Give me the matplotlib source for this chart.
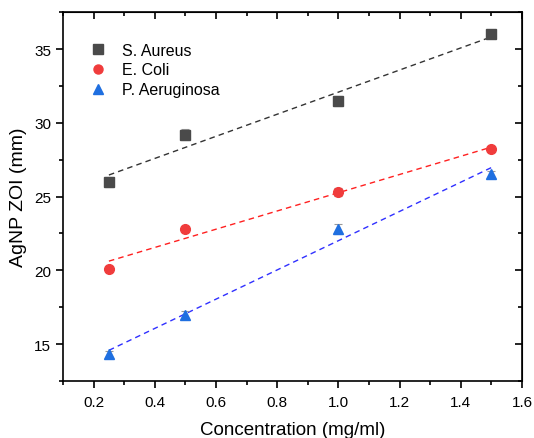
import matplotlib.pyplot as plt
import numpy as np
from matplotlib.lines import Line2D
from matplotlib.ticker import MultipleLocator

plt.rcParams['font.family'] = ['Liberation Sans', 'DejaVu Sans']

# Konzentrationen und Hemmhofdurchmesser
konz = np.array([0.25, 0.5, 1.0, 1.5])
s_aureus = np.array([26.0, 29.2, 31.5, 36.0])
e_coli = np.array([20.1, 22.8, 25.3, 28.2])
p_aeruginosa = np.array([14.3, 17.0, 22.8, 26.5])
fehler_sa = np.array([0.35, 0.4, 0.35, 0.15])
fehler_ec = np.array([0.2, 0.2, 0.25, 0.15])
fehler_pa = np.array([0.2, 0.25, 0.35, 0.25])

reihen = [
    ('S. Aureus', s_aureus, fehler_sa, 's', '#4a4a4a', '#333333'),
    ('E. Coli', e_coli, fehler_ec, 'o', '#f03c3c', '#ff2020'),
    ('P. Aeruginosa', p_aeruginosa, fehler_pa, '^', '#1f6fe0', '#3030ff'),
]

fig = plt.figure(figsize=(5.34, 4.39), dpi=100)
ax = fig.add_axes([0.118, 0.13, 0.8595, 0.84])

griffe = []
for name, werte, fehler, marker, farbe, linienfarbe in reihen:
    ax.errorbar(konz, werte, yerr=fehler, fmt=marker, color=farbe, ms=7,
                ecolor='#999999', elinewidth=0.8, capsize=3, capthick=0.8,
                zorder=3)
    # lineare Regression
    steigung, achse = np.polyfit(konz, werte, 1)
    xf = np.array([konz[0], konz[-1]])
    ax.plot(xf, steigung * xf + achse, '--', color=linienfarbe, lw=1.0,
            dashes=(4, 3), zorder=2)
    griffe.append(Line2D([], [], ls='none', marker=marker, color=farbe,
                         ms=6.5, label=name))

ax.set_xlim(0.1, 1.6)
ax.set_ylim(12.5, 37.5)
ax.xaxis.set_major_locator(MultipleLocator(0.2))
ax.xaxis.set_minor_locator(MultipleLocator(0.1))
ax.yaxis.set_major_locator(MultipleLocator(5))
ax.yaxis.set_minor_locator(MultipleLocator(2.5))
ax.tick_params(which='both', direction='out', top=False, right=False,
               labelsize=11, width=1.2)
ax.tick_params(which='major', length=5)
ax.tick_params(which='minor', length=3)
ax.tick_params(axis='x', which='major', pad=5)

# gespiegelte Achsen mit Ticks nach innen
ax_top = ax.secondary_xaxis('top')
ax_top.xaxis.set_major_locator(MultipleLocator(0.2))
ax_top.xaxis.set_minor_locator(MultipleLocator(0.1))
ax_top.tick_params(which='both', direction='in', labeltop=False, width=1.2)
ax_top.tick_params(which='major', length=5)
ax_top.tick_params(which='minor', length=3)
ax_right = ax.secondary_yaxis('right')
ax_right.yaxis.set_major_locator(MultipleLocator(5))
ax_right.yaxis.set_minor_locator(MultipleLocator(2.5))
ax_right.tick_params(which='both', direction='in', labelright=False, width=1.2)
ax_right.tick_params(which='major', length=5)
ax_right.tick_params(which='minor', length=3)

for sp in ax.spines.values():
    sp.set_linewidth(1.2)

ax.set_xlabel('Concentration (mg/ml)', fontsize=13.5, labelpad=9)
ax.set_ylabel('AgNP ZOI (mm)', fontsize=14, labelpad=5)

ax.legend(handles=griffe, loc='upper left', frameon=False, fontsize=11.5,
          handlelength=1.0, handletextpad=1.0, labelspacing=0.3,
          borderaxespad=0, bbox_to_anchor=(0.045, 0.935))

fig.savefig('out.png', dpi=100)
